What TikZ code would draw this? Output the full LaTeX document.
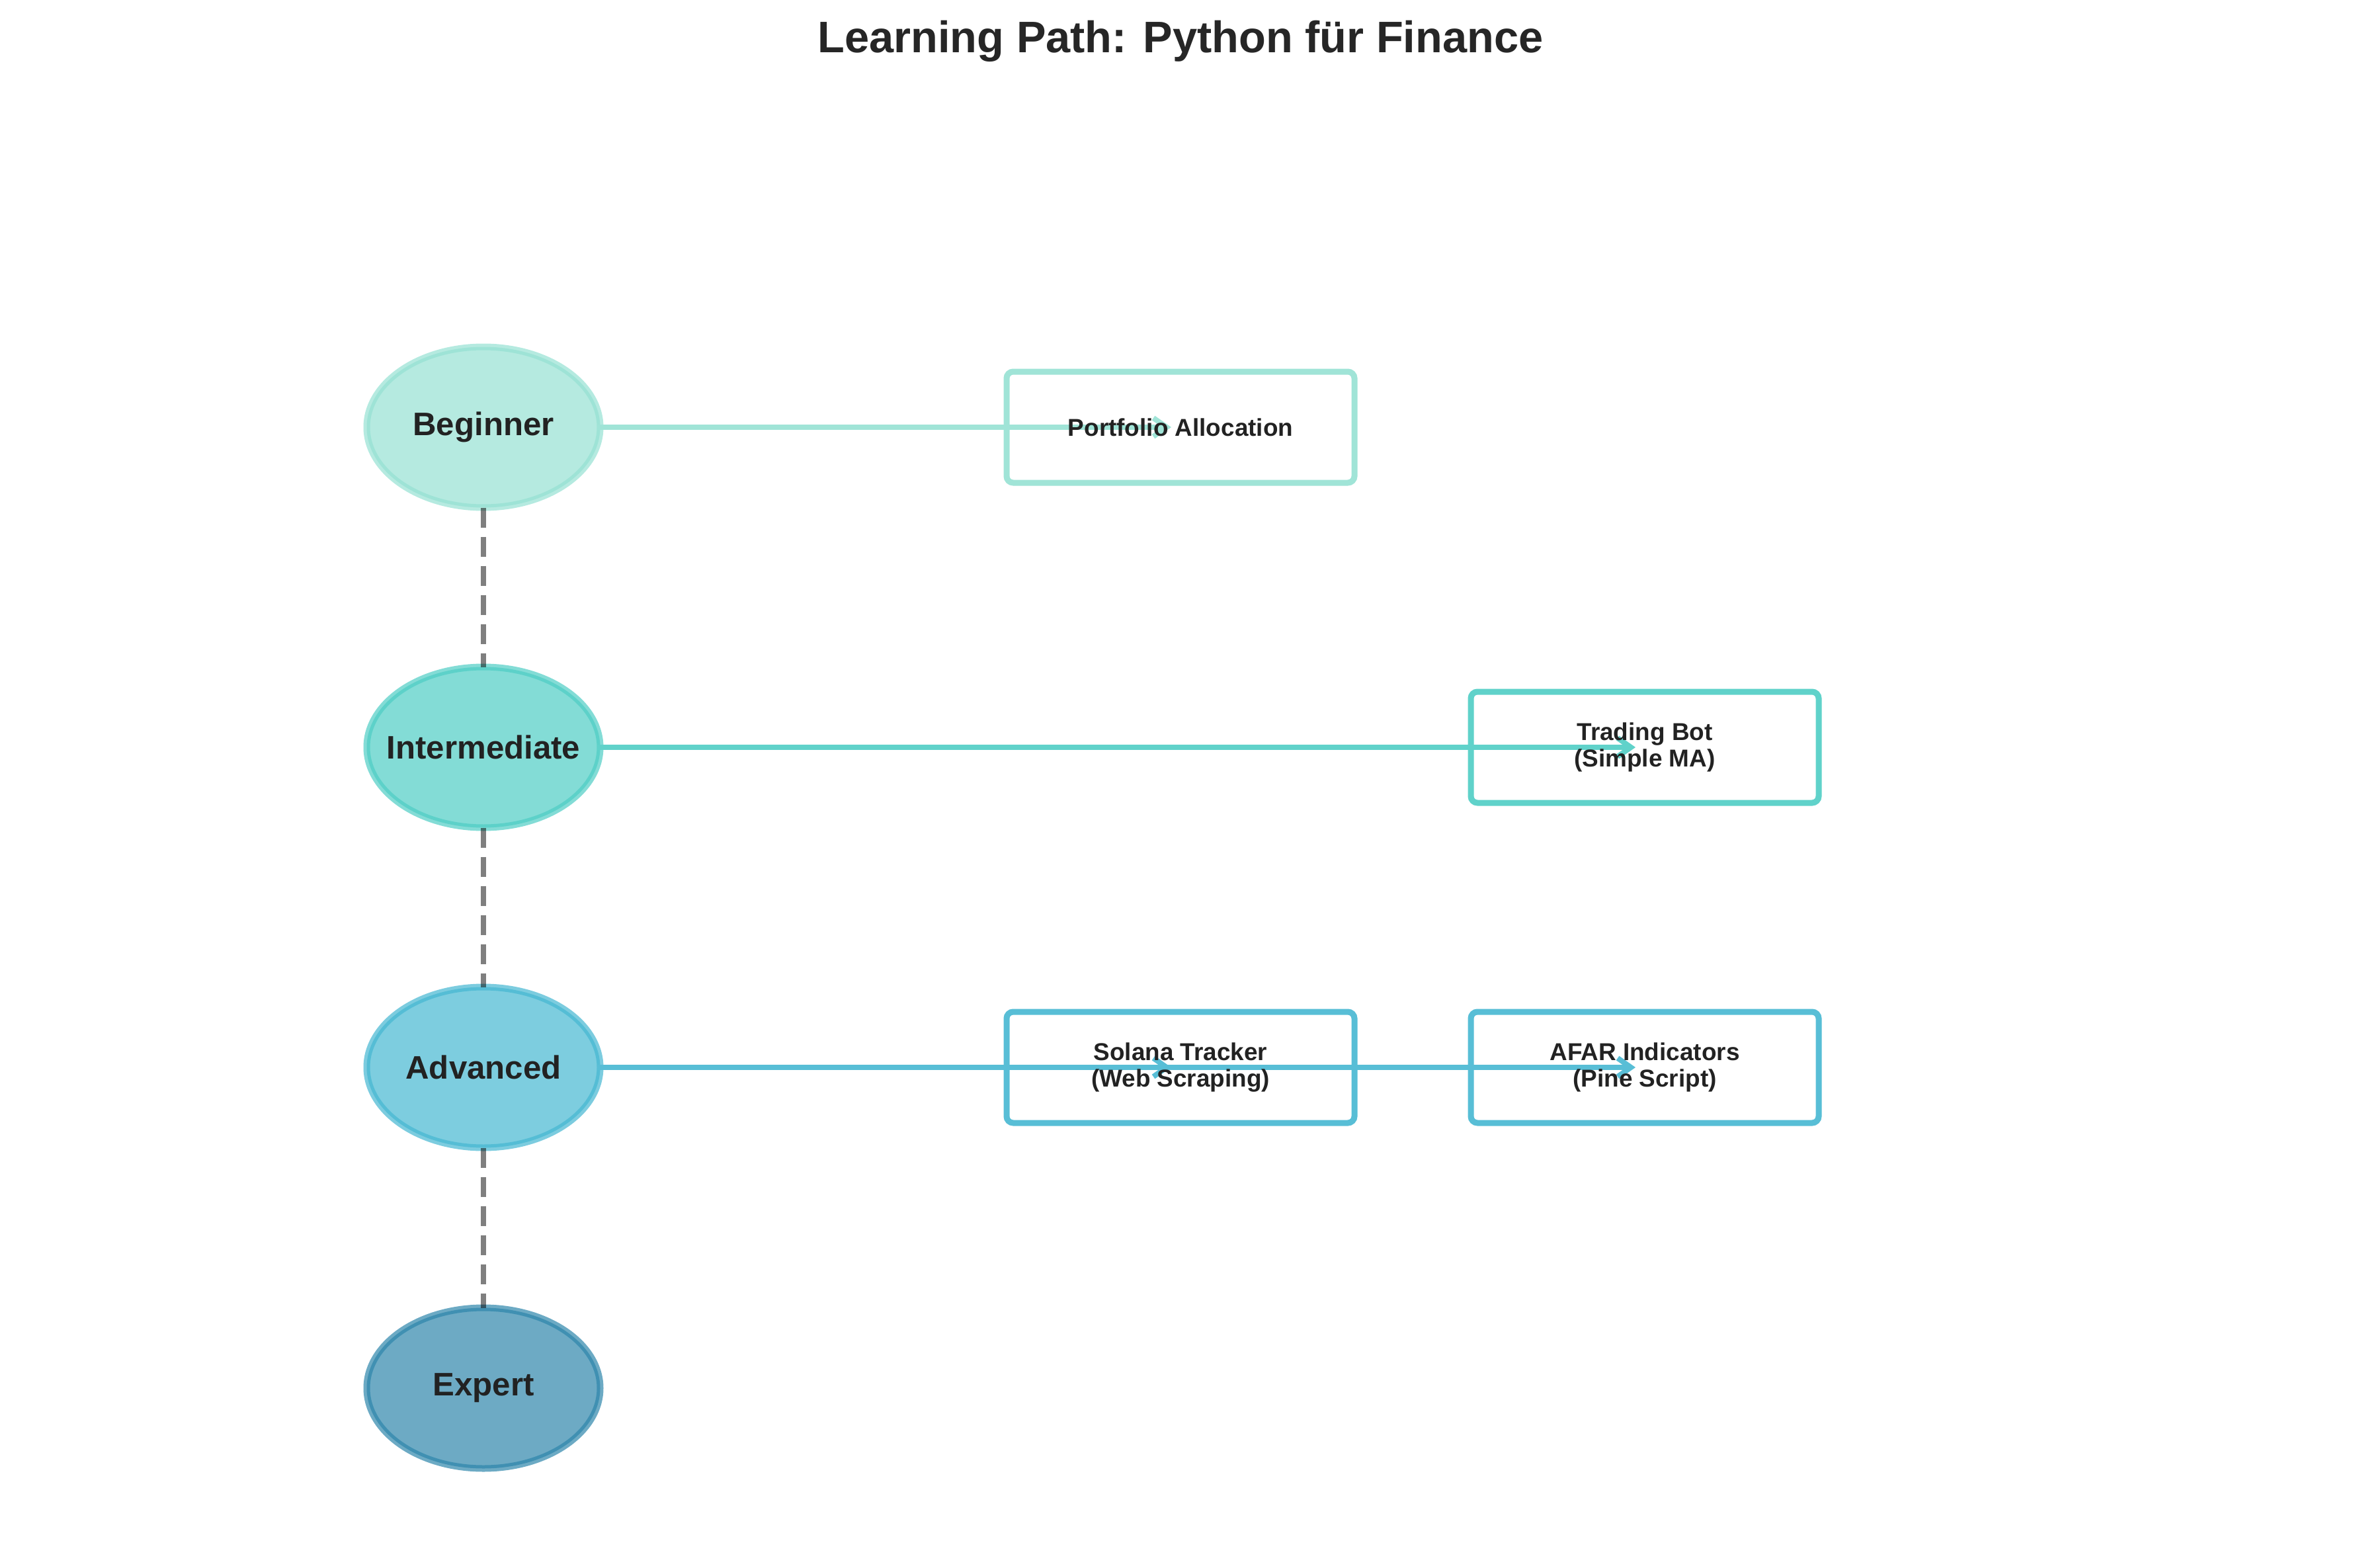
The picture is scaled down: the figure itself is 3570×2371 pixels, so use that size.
\documentclass[tikz,border=0pt]{standalone}
\usepackage{fontspec}
\setmainfont{Liberation Sans}
\usepackage{tikz}
\usetikzlibrary{shapes.geometric}
\usetikzlibrary{arrows.meta}

\definecolor{begcol}{HTML}{95E1D3}
\definecolor{intcol}{HTML}{4ECDC4}
\definecolor{advcol}{HTML}{45B7D1}
\definecolor{expcol}{HTML}{2E86AB}
\definecolor{txtcol}{HTML}{222222}
\definecolor{titlecol}{HTML}{262626}

\begin{document}
\begin{tikzpicture}[x=0.1mm,y=-0.1mm,
    level/.style={ellipse,fill=#1!70,draw=#1,draw opacity=0.7,line width=1mm,
      minimum width=35.3mm,minimum height=24.3mm,inner ysep=0pt,inner xsep=-4mm,outer sep=0pt,
      text=txtcol,font=\fontsize{14}{17}\selectfont\bfseries},
    project/.style={rectangle,rounded corners=1mm,draw=#1!90,line width=0.9mm,
      minimum width=52.6mm,minimum height=16.8mm,inner sep=0pt},
    projtext/.style={text=txtcol,align=center,font=\fontsize{10.5}{11.5}\selectfont\bfseries},
    levelline/.style={dash pattern=on 3mm off 1.4mm,line width=0.8mm,draw=black,draw opacity=0.5},
    projarrow/.style={draw=#1!90,line width=0.8mm,-{Straight Barb[length=2mm,width=2.8mm]},
      shorten <=-0.5mm,shorten >=1.4mm}]
    \useasboundingbox (0,0) rectangle (3570,2371);

    \node[font=\fontsize{19}{23}\selectfont\bfseries,text=titlecol,anchor=base] (title) at (1785,80) {Learning Path: Python für Finance};

    % levels
    \node[level=begcol] (beginner) at (731,646) {Beginner};
    \node[level=intcol] (intermediate) at (731,1130) {Intermediate};
    \node[level=advcol] (advanced) at (731,1614) {Advanced};
    \node[level=expcol] (expert) at (731,2099) {Expert};

    \draw[levelline] (beginner.south) -- (intermediate.north);
    \draw[levelline] (intermediate.south) -- (advanced.north);
    \draw[levelline] (advanced.south) -- (expert.north);

    % projects
    \node[project=begcol] (portfolio) at (1785,646) {};
    \node[project=intcol] (tradingbot) at (2487,1130) {};
    \node[project=advcol] (solana) at (1785,1614) {};
    \node[project=advcol] (afar) at (2487,1614) {};

    \draw[projarrow=begcol] (beginner.east) -- (portfolio.center);
    \draw[projarrow=intcol] (intermediate.east) -- (tradingbot.center);
    \draw[projarrow=advcol] (advanced.east) -- (solana.center);
    \draw[projarrow=advcol] (advanced.east) -- (afar.center);

    \node[projtext] at (portfolio) {Portfolio Allocation};
    \node[projtext] at (tradingbot) {Trading Bot\\(Simple MA)};
    \node[projtext] at (solana) {Solana Tracker\\(Web Scraping)};
    \node[projtext] at (afar) {AFAR Indicators\\(Pine Script)};
\end{tikzpicture}
\end{document}
